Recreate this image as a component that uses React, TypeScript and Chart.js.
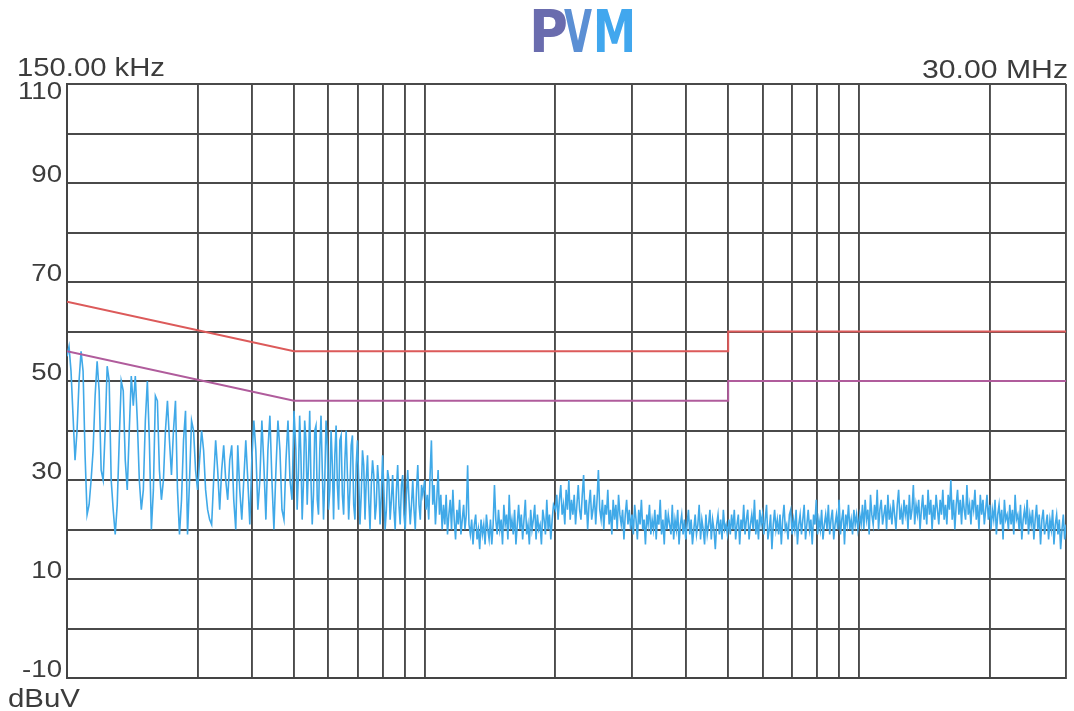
import React, { useEffect, useRef } from 'react';
import { Chart, registerables } from 'chart.js';

Chart.register(...registerables);

// ---- axes / labels ----
const gridFreqsMHz = [0.15, 0.3, 0.4, 0.5, 0.6, 0.7, 0.8, 0.9, 1, 2, 3, 4, 5, 6, 7, 8, 9, 10, 20, 30];
const yTickLabels = [110, 90, 70, 50, 30, 10, -10];
const startLabel = '150.00 kHz';
const stopLabel = '30.00 MHz';
const unitLabel = 'dBuV';

// ---- limit lines (EN 55022 class B style) ----
const qpLimitFreq = [0.15, 0.5, 5, 5, 30];
const qpLimitLevel = [66, 56, 56, 60, 60];
const avgLimitFreq = [0.15, 0.5, 5, 5, 30];
const avgLimitLevel = [56, 46, 46, 50, 50];

const seg1Range = [0.15, 0.5];
const seg1Levels = [
  55, 57, 52, 43, 34, 40, 50, 56, 52, 35, 23, 25, 30, 36, 47, 54, 48, 32, 30, 40,
  53, 50, 30, 24, 19, 25, 38, 50, 48, 34, 28, 40, 51, 45, 51, 42, 30, 24, 28, 42,
  50, 38, 20, 28, 47, 46, 32, 26, 30, 40, 46, 38, 31, 40, 46, 28, 19, 26, 38, 44,
  19, 30, 42, 40, 32, 28, 34, 40, 36, 28, 24, 22, 21, 30, 38, 32, 24, 32, 37, 30,
  26, 34, 37, 26, 20, 37, 28, 22, 30, 38, 30, 21, 34, 42, 36, 24, 30, 42, 33, 22,
  36, 43, 30, 20, 32, 42, 36, 24, 22, 34, 42, 30, 26, 44,
];
const seg2Range = [0.505, 0.99];
const seg2Levels = [
  36, 24, 31, 43, 35, 22, 29, 42, 38, 25, 33, 44, 30, 21, 27, 40, 41, 26, 23, 36, 43, 32, 22, 30, 42, 37,
  24, 28, 40, 33, 22, 35, 41, 29, 24, 38, 39, 27, 23, 34, 40, 31, 22, 28, 37, 39, 25, 22, 33, 38, 30,
  21, 27, 36, 33, 22, 30, 35, 26, 20, 29, 34, 31, 22, 25, 33, 29, 21, 27, 35, 28, 20, 24, 32, 30, 22,
  26, 31, 24, 20, 28, 33, 25, 21, 29, 31, 23, 20, 27, 32, 26, 21, 25, 30, 24, 20, 28, 33, 25, 22, 29, 27,
];
const seg3Range = [1.0, 1.98];
const seg3Levels = [
  30, 24, 27, 22, 31, 38, 25, 29, 21, 26, 32, 23, 27, 20,
  25, 21, 27, 19, 23, 26, 20, 28, 22, 18, 24, 21, 26, 19, 22, 25, 20, 23,
  33, 21,
  19, 22, 17, 21, 23, 18, 20, 16, 22, 19, 21, 17, 23, 20, 18, 22, 17, 21,
  29, 22,
  19, 24, 20, 22, 17, 25, 21, 23, 18, 27, 20, 22, 19, 24, 17, 21, 25, 20, 23, 18, 22, 26,
  19, 21, 17, 24, 20, 22, 25, 18, 23, 20, 21, 17, 24, 22, 19, 26, 20, 23, 18, 22, 25,
];
const seg4Range = [2.0, 4.98];
const seg4Levels = [
  24, 27, 22, 26, 29, 23, 25, 21, 28, 24, 30, 22, 26, 23, 27, 21, 25, 29, 24, 22, 27, 31, 23, 26, 20,
  25, 28, 22, 24, 27, 21, 26, 32, 24,
  22, 26, 20, 25, 23, 28, 21, 24, 19, 26, 22, 25, 20, 27, 23, 21, 24, 18, 23, 26, 21,
  24, 20, 23, 19, 25, 22, 18, 24, 21, 26, 20, 22, 17, 23, 21, 25, 19, 22, 20, 24, 18, 23, 21, 26,
  19, 22, 17, 24, 20, 23, 21, 19, 25, 18, 22, 20, 24, 17, 21, 23, 19,
  22, 18, 21, 24, 19, 22, 17, 20, 23, 19, 21, 25, 18, 22, 20, 17, 23, 19, 21, 24, 18, 22, 20, 16,
  21, 23, 19, 22, 18, 24, 20, 21, 19,
];
const seg5Range = [5.02, 9.95];
const seg5Levels = [
  22, 19, 23, 20, 24, 18, 21, 23, 17, 22, 20, 25, 19, 22, 24, 18, 21, 23, 20, 26, 19, 22, 18, 24,
  21, 23, 19, 22, 25, 18, 20, 23, 16, 21, 24, 20, 22, 19, 23, 17, 22, 25, 20, 21, 18, 23, 24, 19,
  22, 20, 24, 17, 21, 23, 19, 22, 25, 18, 21, 24, 20, 22, 17, 23, 21, 26, 19, 22, 20, 24, 18, 21,
  23, 20, 25, 19, 22, 24, 18, 21, 23, 20, 26, 19, 22, 24, 17, 23, 21, 25, 20, 22, 19, 24, 21, 23, 20,
];
const seg6Range = [10.05, 30];
const seg6Levels = [
  23, 21, 25, 20, 26, 22, 24, 19, 27, 23, 21, 25, 22, 28, 20, 24, 26, 21, 23, 25, 20, 27, 22, 24,
  21, 26, 23, 20, 25, 28, 22, 24,
  21, 26, 23, 25, 20, 27, 22, 24, 29, 21, 25, 23, 26, 20, 24, 27, 22, 25, 21, 28, 23, 26, 20, 25,
  22, 27, 24, 21, 26, 23,
  28, 22, 25, 21, 27, 24, 30, 22, 26, 20, 25, 28, 23, 26, 21, 27, 24, 22, 29, 23, 25, 21, 26, 24,
  28, 22, 25, 20, 27, 23, 26, 21, 24, 27, 22,
  25, 20, 24, 22, 26, 19, 23, 25, 21, 24, 18, 26, 22, 23, 20, 25, 21, 24, 19, 27, 22, 23, 20, 25,
  18, 22, 24, 21, 26, 19, 23, 21,
  24, 18, 22, 25, 20, 23, 17, 22, 24, 19, 21, 23, 18, 22, 20, 24, 17, 21, 23, 19, 22, 16, 20, 23,
  18, 21,
];

const segments: [number[], number[]][] = [
  [seg1Range, seg1Levels],
  [seg2Range, seg2Levels],
  [seg3Range, seg3Levels],
  [seg4Range, seg4Levels],
  [seg5Range, seg5Levels],
  [seg6Range, seg6Levels],
];

// map each sweep segment's readings onto its (log-spaced) sweep points
function sweepPoints() {
  const pts: { x: number; y: number }[] = [];
  for (const [range, levels] of segments) {
    const [a, b] = range;
    const n = levels.length;
    levels.forEach((lv, i) => {
      pts.push({ x: a * Math.pow(b / a, n > 1 ? i / (n - 1) : 0), y: lv });
    });
  }
  return pts;
}

const pairs = (xs: number[], ys: number[]) => xs.map((x, i) => ({ x, y: ys[i] }));

const TEXT_COLOR = '#3c3c3c';
const FONT = '"Liberation Sans", Arial, sans-serif';

function drawStretched(
  ctx: CanvasRenderingContext2D,
  text: string,
  x: number,
  baseline: number,
  align: 'left' | 'right',
  font: string,
  sx: number,
  color: string
) {
  ctx.save();
  ctx.font = font;
  ctx.fillStyle = color;
  ctx.textBaseline = 'alphabetic';
  ctx.textAlign = align;
  ctx.translate(x, baseline);
  ctx.scale(sx, 1);
  ctx.fillText(text, 0, 0);
  ctx.restore();
}

function drawFitted(
  ctx: CanvasRenderingContext2D,
  text: string,
  x: number,
  baseline: number,
  width: number,
  font: string,
  color: string
) {
  ctx.save();
  ctx.font = font;
  const w = ctx.measureText(text).width;
  ctx.fillStyle = color;
  ctx.textBaseline = 'alphabetic';
  ctx.textAlign = 'left';
  ctx.translate(x, baseline);
  ctx.scale(width / w, 1);
  ctx.fillText(text, 0, 0);
  ctx.restore();
}

const labelsPlugin = {
  id: 'emcLabels',
  afterDraw(chart: any) {
    const ctx: CanvasRenderingContext2D = chart.ctx;
    const ys = chart.scales.y;
    const area = chart.chartArea;
    for (const v of yTickLabels) {
      const py = ys.getPixelForValue(v);
      const base = v === 110 ? py + 15 : py - 1;
      drawStretched(ctx, String(v), area.left - 5, base, 'right', `24px ${FONT}`, 1.15, TEXT_COLOR);
    }
    drawFitted(ctx, startLabel, 17, 76, 148, `26px ${FONT}`, TEXT_COLOR);
    drawFitted(ctx, stopLabel, 1068 - 146, 78, 146, `26px ${FONT}`, TEXT_COLOR);
    drawFitted(ctx, unitLabel, 8, 707, 72, `25px ${FONT}`, TEXT_COLOR);

    // PMM logo
    const logoFont = 'bold 58px "DejaVu Sans", sans-serif';
    drawFitted(ctx, 'P', 529, 52, 39, logoFont, '#6a6cae');
    drawFitted(ctx, 'V', 564, 52, 28, logoFont, '#5b8fd4');
    drawFitted(ctx, 'M', 593, 52, 43, logoFont, '#41a7ee');
  },
};

export default function App() {
  const ref = useRef<HTMLCanvasElement>(null);

  useEffect(() => {
    if (!ref.current) return;
    const chart = new Chart(ref.current, {
      type: 'line',
      data: {
        datasets: [
          {
            label: 'QP limit',
            data: pairs(qpLimitFreq, qpLimitLevel),
            borderColor: '#dc5a5a',
            borderWidth: 2,
            pointRadius: 0,
            order: 0,
          },
          {
            label: 'AV limit',
            data: pairs(avgLimitFreq, avgLimitLevel),
            borderColor: '#b05c9c',
            borderWidth: 2,
            pointRadius: 0,
            order: 0,
          },
          {
            label: 'Trace',
            data: sweepPoints(),
            borderColor: '#40a9e8',
            borderWidth: 1.6,
            pointRadius: 0,
            tension: 0,
            order: 1,
          },
        ],
      },
      options: {
        animation: false,
        responsive: false,
        devicePixelRatio: 1,
        layout: { padding: { top: 84, right: 8, left: 0, bottom: 0 } },
        plugins: {
          legend: { display: false },
          tooltip: { enabled: false },
        },
        scales: {
          x: {
            type: 'logarithmic',
            min: 0.15,
            max: 30,
            afterBuildTicks: (axis: any) => {
              axis.ticks = gridFreqsMHz.map((v) => ({ value: v }));
            },
            afterFit: (scale: any) => {
              scale.height = 33;
            },
            ticks: { display: false },
            grid: { color: '#4a4a4a', lineWidth: 1.9, drawTicks: false },
            border: { display: true, color: '#444', width: 2 },
          },
          y: {
            type: 'linear',
            min: -10,
            max: 110,
            ticks: { display: false, stepSize: 10 },
            afterFit: (scale: any) => {
              scale.width = 67;
            },
            grid: { color: '#4a4a4a', lineWidth: 1.9, drawTicks: false },
            border: { display: true, color: '#444', width: 2 },
          },
        },
      },
      plugins: [labelsPlugin],
    });
    return () => chart.destroy();
  }, []);

  return (
    <div style={{ position: 'absolute', left: 0, top: 0, width: 1074, height: 711, background: '#fff' }}>
      <canvas ref={ref} width={1074} height={711} style={{ display: 'block', width: 1074, height: 711 }} />
    </div>
  );
}
